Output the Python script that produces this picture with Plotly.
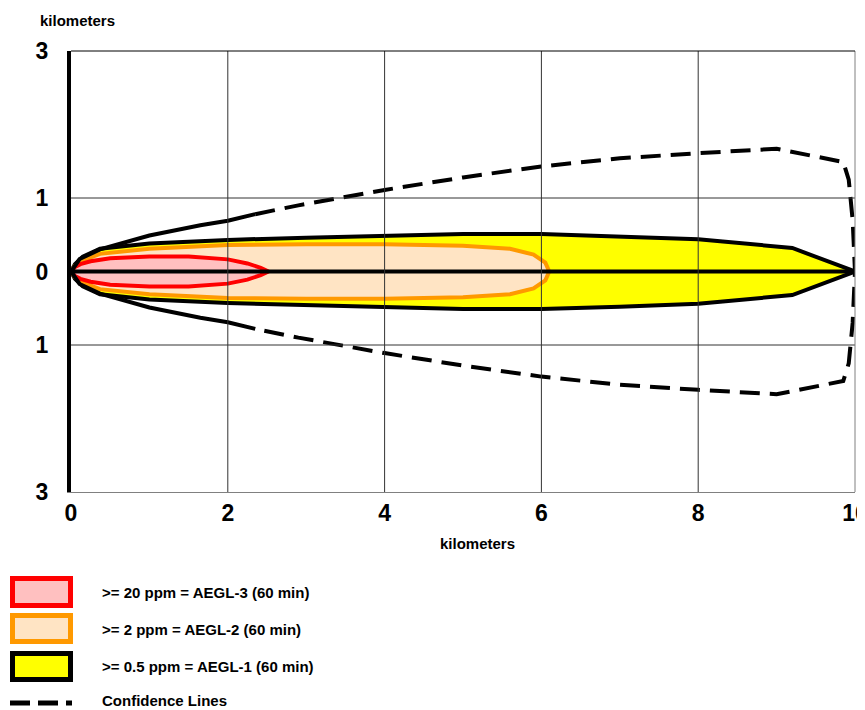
import plotly.graph_objects as go

# ---- data (km) ----
aegl1_x = [0, 0.05, 0.15, 0.37, 1.0, 2.0, 3.0, 4.0, 5.0, 6.0, 7.0, 8.0, 9.2, 10.0]
aegl1_hw = [0, 0.10, 0.20, 0.31, 0.38, 0.43, 0.46, 0.48, 0.51, 0.51, 0.48, 0.44, 0.32, 0]

aegl2_x = [0, 0.05, 0.15, 0.37, 1.0, 2.0, 3.0, 4.0, 5.0, 5.6, 5.9, 6.05, 6.1]
aegl2_hw = [0, 0.08, 0.15, 0.24, 0.31, 0.36, 0.37, 0.37, 0.35, 0.31, 0.23, 0.12, 0]

aegl3_x = [0, 0.05, 0.12, 0.25, 0.5, 1.0, 1.5, 2.0, 2.25, 2.42, 2.52]
aegl3_hw = [0, 0.06, 0.10, 0.14, 0.18, 0.205, 0.205, 0.165, 0.11, 0.05, 0]

conf_x = [0, 0.11, 0.37, 1.0, 1.65, 2.0, 2.35, 2.9, 4.0, 5.0, 6.0, 7.0, 8.0, 9.0, 9.85, 9.92, 9.97, 10.0]
conf_hw = [0, 0.17, 0.30, 0.49, 0.63, 0.69, 0.78, 0.90, 1.11, 1.28, 1.43, 1.54, 1.61, 1.67, 1.49, 1.25, 0.70, 0]
conf_solid_end = 2.35

x_ticks = [0, 2, 4, 6, 8, 10]
y_ticks = [-3, -1, 0, 1, 3]
y_ticktext = ["3", "1", "0", "1", "3"]
grid_x = [2, 4, 6, 8]
grid_y = [-1, 1]

legend_labels = [">= 20 ppm = AEGL-3 (60 min)", ">= 2 ppm = AEGL-2 (60 min)",
                 ">= 0.5 ppm = AEGL-1 (60 min)", "Confidence Lines"]

FONT = "Liberation Sans, Arial, sans-serif"

# page body has an 8px margin; work in window pixels and subtract it
OFF = 8
W, H = 865 - OFF, 710 - OFF
L, T, PW, PH = 71 - OFF, 51 - OFF, 784, 441


def px(xp):
    return (xp - OFF - L) / PW


def py(yp):
    return (T + PH - (yp - OFF)) / PH


def zone(xs, hw):
    x = list(xs) + list(reversed(xs))
    y = list(hw) + [-v for v in reversed(hw)]
    return x, y


fig = go.Figure()

for xs, hw, lc, fc in [(aegl1_x, aegl1_hw, "#000000", "#FFFF00"),
                       (aegl2_x, aegl2_hw, "#FF9900", "#FFE4C4"),
                       (aegl3_x, aegl3_hw, "#FF0000", "#FFC0C0")]:
    zx, zy = zone(xs, hw)
    fig.add_trace(go.Scatter(x=zx, y=zy, mode="lines", fill="toself", fillcolor=fc,
                             line=dict(color=lc, width=4), hoverinfo="skip", showlegend=False))

# center line
fig.add_trace(go.Scatter(x=[0, 10], y=[0, 0], mode="lines",
                         line=dict(color="#000000", width=4), showlegend=False, hoverinfo="skip"))

# confidence lines: solid near source, dashed beyond
k = conf_x.index(conf_solid_end)
sx = conf_x[:k + 1]
sy = conf_hw[:k + 1]
fig.add_trace(go.Scatter(x=sx + [None] + sx, y=sy + [None] + [-v for v in sy], mode="lines",
                         line=dict(color="#000000", width=4), showlegend=False, hoverinfo="skip"))
dx = conf_x[k:]
dh = conf_hw[k:]
fig.add_trace(go.Scatter(x=dx + list(reversed(dx)), y=dh + [-v for v in reversed(dh)], mode="lines",
                         line=dict(color="#000000", width=4, dash="20px,10px"),
                         showlegend=False, hoverinfo="skip"))

shapes = []
for gx in grid_x:
    shapes.append(dict(type="line", xref="x", yref="paper", x0=gx, x1=gx, y0=0, y1=1,
                       line=dict(color="#333333", width=1), layer="above"))
for gy in grid_y:
    shapes.append(dict(type="line", xref="paper", yref="y", x0=0, x1=1, y0=gy, y1=gy,
                       line=dict(color="#333333", width=1), layer="above"))
shapes.append(dict(type="line", xref="paper", yref="paper", x0=1, x1=1, y0=0, y1=1,
                   line=dict(color="#808080", width=1), layer="above"))
shapes.append(dict(type="line", xref="paper", yref="paper", x0=0, x1=1, y0=1, y1=1,
                   line=dict(color="#000000", width=1), layer="above"))

boxes = [(578.5, 605.5, "#FF0000", "#FFC0C0"),
         (615.5, 641.5, "#FF9900", "#FFE4C4"),
         (653.5, 679.5, "#000000", "#FFFF00")]
for y0, y1, lc, fc in boxes:
    shapes.append(dict(type="rect", xref="paper", yref="paper", x0=px(12.5), x1=px(70.5),
                       y0=py(y1), y1=py(y0), line=dict(color=lc, width=5), fillcolor=fc))
shapes.append(dict(type="line", xref="paper", yref="paper", x0=px(10), x1=px(72),
                   y0=py(703), y1=py(703), line=dict(color="#000000", width=5, dash="20px,8px")))

annotations = []
for lab, yc in zip(legend_labels, [592, 629, 666, 700]):
    annotations.append(dict(text=lab, xref="paper", yref="paper", x=px(100), y=py(yc),
                            xanchor="left", yanchor="middle", showarrow=False,
                            font=dict(family=FONT, size=15, color="#000000", weight="bold")))
annotations.append(dict(text="kilometers", xref="paper", yref="paper", x=px(477), y=py(543),
                        xanchor="center", yanchor="middle", showarrow=False,
                        font=dict(family=FONT, size=15, color="#000000", weight="bold")))
annotations.append(dict(text="kilometers", xref="paper", yref="paper", x=px(77), y=py(21),
                        xanchor="center", yanchor="middle", showarrow=False,
                        font=dict(family=FONT, size=15, color="#000000", weight="bold")))

fig.update_layout(
    template="none",
    width=W, height=H,
    margin=dict(l=L, r=W - L - PW, t=T, b=H - T - PH, pad=0),
    paper_bgcolor="white", plot_bgcolor="white",
    showlegend=False,
    shapes=shapes,
    annotations=annotations,
    xaxis=dict(range=[0, 10], tickvals=x_ticks, ticktext=[str(v) for v in x_ticks],
               showgrid=False, zeroline=False, showline=True, linecolor="#808080", linewidth=1,
               mirror=False, ticks="", automargin=False, ticklabeloverflow="allow",
               tickfont=dict(family=FONT, size=23, color="#000000", weight="bold")),
    yaxis=dict(range=[-3, 3], tickvals=y_ticks, ticktext=y_ticktext,
               showgrid=False, zeroline=False, showline=True, linecolor="#000000", linewidth=4,
               ticks="", automargin=False, ticklabelstandoff=14, ticklabeloverflow="allow",
               tickfont=dict(family=FONT, size=23, color="#000000", weight="bold")),
)

fig.write_html("out.html")
